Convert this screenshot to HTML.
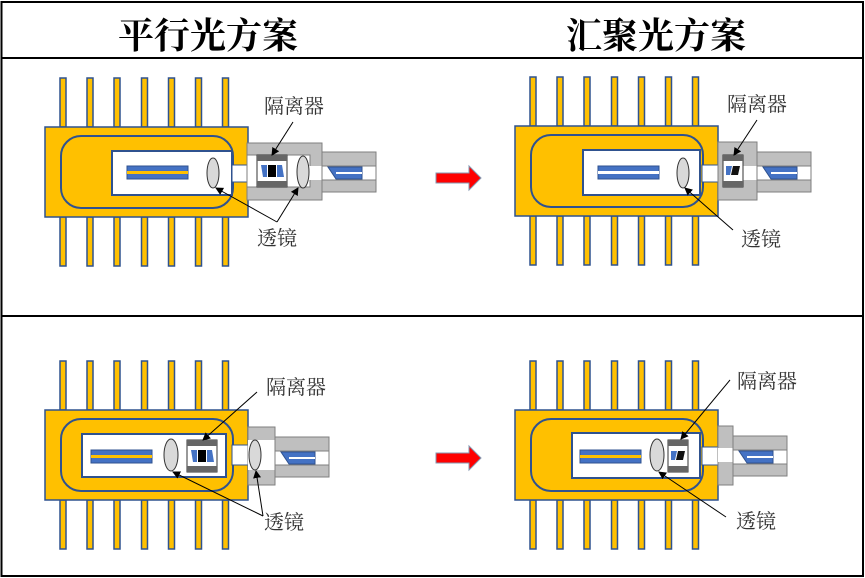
<!DOCTYPE html>
<html><head><meta charset="utf-8"><style>
html,body{margin:0;padding:0;background:#fff;}
svg{display:block}
.t{font-family:"Liberation Serif","Noto Serif CJK SC",serif;font-weight:bold;font-size:36px;fill:#000}
.l{font-family:"Liberation Serif","Noto Serif CJK SC",serif;font-size:20px;fill:#333}
</style></head><body>
<svg width="865" height="578" viewBox="0 0 865 578" xmlns="http://www.w3.org/2000/svg">
<defs>
<marker id="ah" markerWidth="8" markerHeight="8" refX="7" refY="4" orient="auto" markerUnits="userSpaceOnUse"><path d="M0,0 L8,4 L0,8 Z" fill="#000"/></marker>
<g id="pins">
 <g fill="#FFC000" stroke="#2F528F" stroke-width="1.5">
  <rect x="60" y="0" width="6" height="49"/><rect x="87" y="0" width="6" height="49"/><rect x="114" y="0" width="6" height="49"/><rect x="141.5" y="0" width="6" height="49"/><rect x="168.5" y="0" width="6" height="49"/><rect x="195.5" y="0" width="6" height="49"/><rect x="222.5" y="0" width="6" height="49"/>
  <rect x="60" y="139" width="6" height="49"/><rect x="87" y="139" width="6" height="49"/><rect x="114" y="139" width="6" height="49"/><rect x="141.5" y="139" width="6" height="49"/><rect x="168.5" y="139" width="6" height="49"/><rect x="195.5" y="139" width="6" height="49"/><rect x="222.5" y="139" width="6" height="49"/>
  <rect x="45" y="49" width="203" height="90"/>
 </g>
 <rect x="61" y="58" width="172" height="72" rx="20" fill="none" stroke="#2F528F" stroke-width="2"/>
</g>
<g id="chip"><rect x="0" y="0" width="61" height="13" fill="#4472C4" stroke="#2F528F"/><rect x="0" y="5" width="61" height="3" fill="#FFC000"/></g>
<g id="chip2"><rect x="0" y="0" width="61" height="13" fill="#4472C4" stroke="#2F528F"/><rect x="0" y="5" width="61" height="3" fill="#fff"/></g>
<g id="iso"><rect x="0" y="0" width="30" height="32" fill="#fff" stroke="#333"/><rect x="0" y="0" width="30" height="6" fill="#666"/><rect x="0" y="26" width="30" height="6" fill="#666"/><polygon points="4,10 10,10 10,22 6,22" fill="#4472C4"/><rect x="11" y="10" width="8" height="12" fill="#000"/><polygon points="20,10 25,10 27,22 20,22" fill="#4472C4"/></g>
<g id="iso2"><rect x="0" y="0" width="20" height="32" fill="#fff" stroke="#333"/><rect x="0" y="0" width="20" height="6" fill="#666"/><rect x="0" y="26" width="20" height="6" fill="#666"/><polygon points="3,11 9,11 7,20 3,20" fill="#4472C4"/><polygon points="10,11 17,11 15,20 8,20" fill="#111"/></g>
<g id="fer"><rect x="0" y="0" width="54" height="40" fill="#BFBFBF" stroke="#7F7F7F"/><rect x="0" y="14" width="54" height="14" fill="#fff" stroke="#7F7F7F"/><polygon points="6,15 40,15 40,27 14,27" fill="#4472C4" stroke="#2F528F"/><rect x="14" y="20" width="26" height="2" fill="#fff"/></g>
<g id="arr"><polygon points="436,0 469,0 469,-7 481,5 469,17 469,10 436,10" fill="#FF0000" stroke="#8497B0" stroke-width="1"/></g>
</defs>

<rect x="1.5" y="2" width="861.5" height="574" fill="none" stroke="#000" stroke-width="2"/>
<line x1="1" y1="58" x2="864" y2="58" stroke="#000" stroke-width="2"/>
<line x1="1" y1="316" x2="864" y2="316" stroke="#000" stroke-width="2"/>
<text class="t" x="208" y="48" text-anchor="middle">平行光方案</text>
<text class="t" x="656" y="48" text-anchor="middle">汇聚光方案</text>

<use href="#arr" transform="translate(0,173)"/>
<use href="#arr" transform="translate(0,453)"/>

<!-- Top-left -->
<use href="#pins" transform="translate(0,78)"/>
<rect x="112" y="151" width="120" height="44" fill="#fff" stroke="#2F528F" stroke-width="2"/>
<use href="#chip" transform="translate(127,166)"/>
<ellipse cx="213" cy="173" rx="6" ry="15" fill="#D9D9D9" stroke="#333"/>
<rect x="232" y="165" width="16" height="17" fill="#fff" stroke="#2F528F"/>
<rect x="247" y="143" width="75" height="57" fill="#BFBFBF" stroke="#7F7F7F"/>
<rect x="247" y="155" width="63" height="32" fill="#fff" stroke="#7F7F7F"/>
<rect x="309" y="166" width="13" height="14" fill="#fff"/>
<use href="#iso" transform="translate(257,155)"/>
<ellipse cx="303" cy="172" rx="6" ry="16" fill="#D9D9D9" stroke="#333"/>
<use href="#fer" transform="translate(322,152)"/>
<text class="l" x="264" y="113">隔离器</text>
<text class="l" x="257" y="245">透镜</text>
<line x1="293" y1="122" x2="272" y2="155" stroke="#000" marker-end="url(#ah)"/>
<line x1="277" y1="222" x2="216" y2="188" stroke="#000" marker-end="url(#ah)"/>
<line x1="277" y1="222" x2="298" y2="188" stroke="#000" marker-end="url(#ah)"/>

<!-- Top-right -->
<use href="#pins" transform="translate(470,77)"/>
<rect x="583" y="150" width="117" height="45" fill="#fff" stroke="#2F528F" stroke-width="2"/>
<use href="#chip2" transform="translate(598,166)"/>
<ellipse cx="683" cy="173" rx="6" ry="15" fill="#D9D9D9" stroke="#333"/>
<rect x="702" y="165" width="16" height="17" fill="#fff" stroke="#2F528F"/>
<rect x="718" y="142" width="39" height="58" fill="#BFBFBF" stroke="#7F7F7F"/>
<rect x="740" y="166" width="17" height="14" fill="#fff"/>
<use href="#iso2" transform="translate(723,155)"/>
<use href="#fer" transform="translate(757,152)"/>
<text class="l" x="727" y="111">隔离器</text>
<text class="l" x="741" y="246">透镜</text>
<line x1="757" y1="120" x2="734" y2="155" stroke="#000" marker-end="url(#ah)"/>
<line x1="733" y1="230" x2="685" y2="188" stroke="#000" marker-end="url(#ah)"/>

<!-- Bottom-left -->
<use href="#pins" transform="translate(0,361)"/>
<rect x="82" y="434" width="144" height="43" fill="#fff" stroke="#2F528F" stroke-width="2"/>
<use href="#chip" transform="translate(91,450)"/>
<ellipse cx="171" cy="455" rx="7" ry="16" fill="#D9D9D9" stroke="#333"/>
<use href="#iso" transform="translate(187,440)"/>
<rect x="232" y="445" width="16" height="20" fill="#fff" stroke="#2F528F"/>
<rect x="248" y="427" width="27" height="58" fill="#BFBFBF" stroke="#7F7F7F"/>
<rect x="248" y="440" width="27" height="30" fill="#fff"/>
<ellipse cx="255" cy="455" rx="6" ry="15" fill="#D9D9D9" stroke="#333"/>
<use href="#fer" transform="translate(275,437)"/>
<text class="l" x="266" y="394">隔离器</text>
<text class="l" x="264" y="529">透镜</text>
<line x1="257" y1="392" x2="203" y2="440" stroke="#000" marker-end="url(#ah)"/>
<line x1="263" y1="516" x2="173" y2="472" stroke="#000" marker-end="url(#ah)"/>
<line x1="263" y1="516" x2="256" y2="471" stroke="#000" marker-end="url(#ah)"/>

<!-- Bottom-right -->
<use href="#pins" transform="translate(470,361)"/>
<rect x="572" y="433" width="128" height="45" fill="#fff" stroke="#2F528F" stroke-width="2"/>
<use href="#chip" transform="translate(580,450)"/>
<ellipse cx="657" cy="455" rx="7" ry="16" fill="#D9D9D9" stroke="#333"/>
<use href="#iso2" transform="translate(668,440)"/>
<rect x="702" y="447" width="16" height="18" fill="#fff" stroke="#2F528F"/>
<rect x="718" y="426" width="15" height="59" fill="#BFBFBF" stroke="#7F7F7F"/>
<rect x="718" y="448" width="15" height="14" fill="#fff"/>
<use href="#fer" transform="translate(733,436)"/>
<text class="l" x="737" y="388">隔离器</text>
<text class="l" x="736" y="528">透镜</text>
<line x1="730" y1="380" x2="681" y2="439" stroke="#000" marker-end="url(#ah)"/>
<line x1="726" y1="517" x2="659" y2="472" stroke="#000" marker-end="url(#ah)"/>
</svg>
</body></html>
